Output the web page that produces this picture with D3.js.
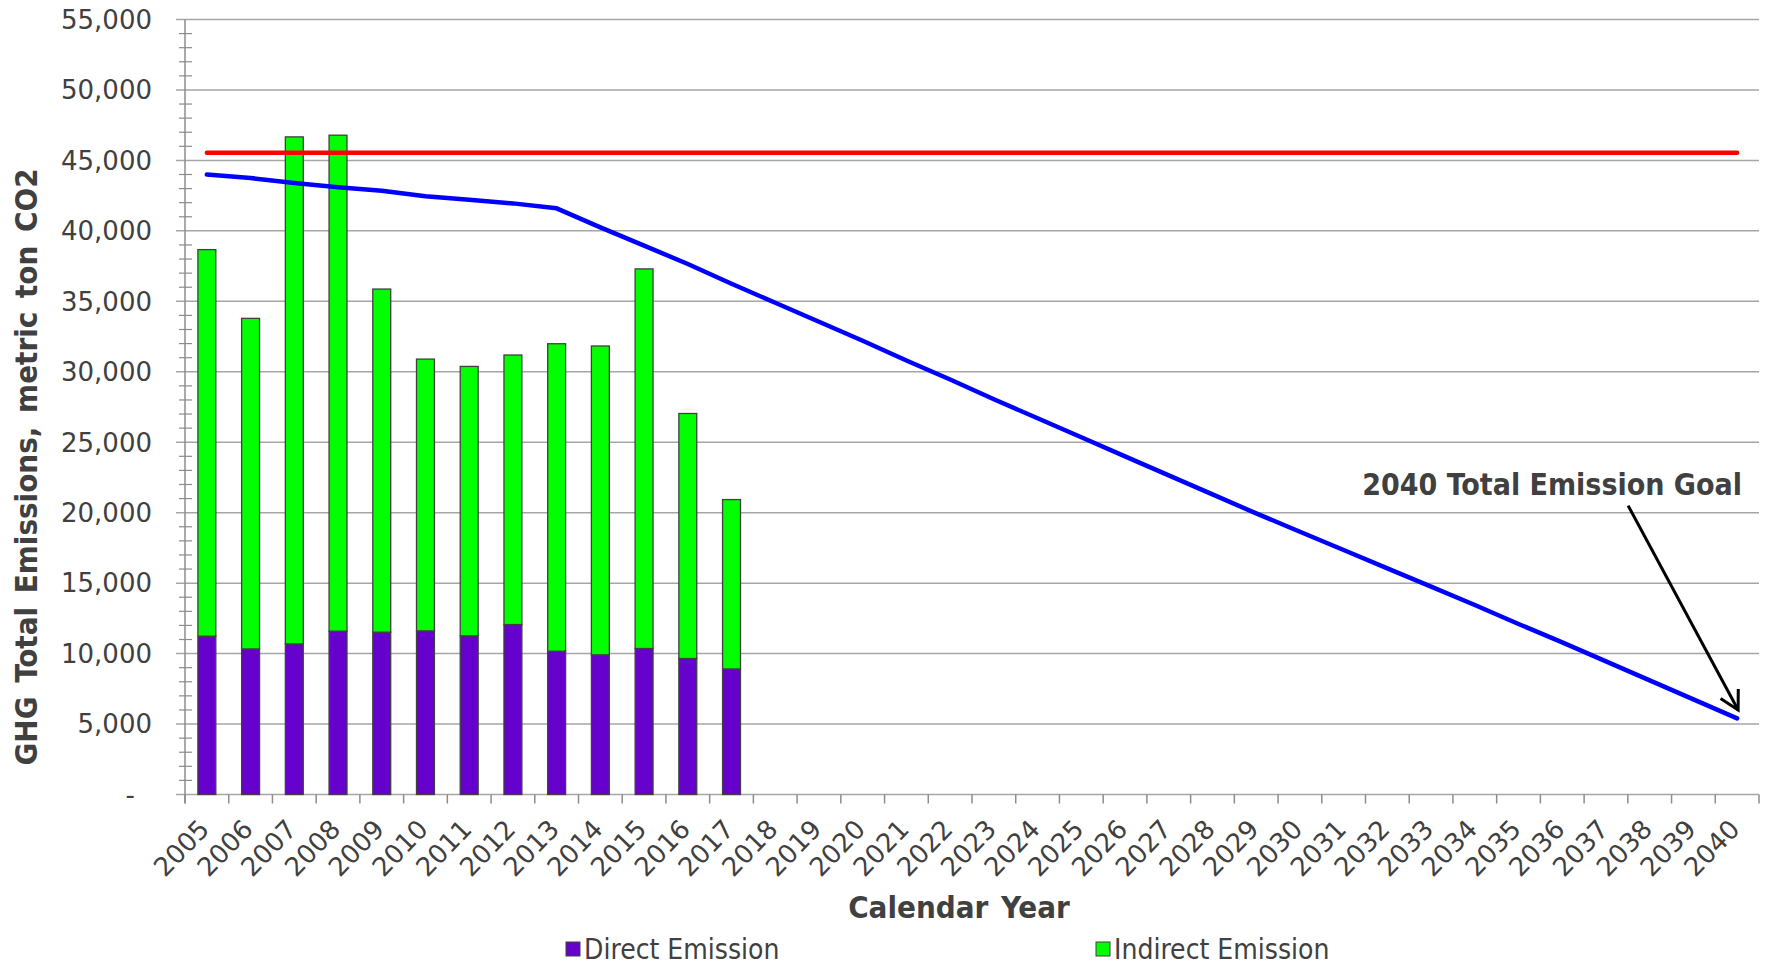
<!DOCTYPE html>
<html lang="en">
<head>
    <meta charset="UTF-8">
    <title>GHG Total Emissions</title>
    <script src="https://d3js.org/d3.v7.min.js"></script>
    <style>
        body {
            margin: 0;
            background-color: #ffffff;
        }
        svg text {
            fill: #404040;
        }
        .tick-label {
            font-family: "DejaVu Sans", sans-serif;
        }
        .bold-label {
            font-family: "DejaVu Sans Condensed", "DejaVu Sans", sans-serif;
            font-stretch: condensed;
            font-weight: bold;
        }
        .legend-label {
            font-family: "DejaVu Sans Condensed", "DejaVu Sans", sans-serif;
            font-stretch: condensed;
        }
    </style>
</head>
<body>
    <svg id="chart" width="1773" height="968"></svg>

    <script>
        // years on the category axis
        const years = d3.range(2005, 2041).map(String);

        // measured years (stacked bars)
        const barYears = ["2005", "2006", "2007", "2008", "2009", "2010", "2011", "2012", "2013", "2014", "2015", "2016", "2017"];
        const directEmission = [11235, 10330, 10690, 11590, 11520, 11610, 11260, 12060, 10170, 9910, 10360, 9650, 8910];
        const indirectEmission = [27435, 23460, 35980, 35200, 24350, 19290, 19120, 19130, 21820, 21920, 26940, 17390, 12020];

        // reduction target path (blue line)
        const targetPath = [44000, 43750, 43400, 43100, 42850, 42450, 42200, 41950, 41600, 40250,
                            38950, 37650, 36250, 34900, 33550, 32200, 30800, 29450, 28050, 26700,
                            25350, 24000, 22650, 21300, 19950, 18650, 17350, 16050, 14750, 13450,
                            12100, 10800, 9450, 8100, 6750, 5400];

        // baseline (red line)
        const baselineValue = 45550;

        const yTicks = d3.range(0, 55001, 5000);
        const seriesNames = ["Direct Emission", "Indirect Emission"];
        const seriesColors = ["#6600cc", "#00ff00"];

        const svg = d3.select("#chart");

        const plotLeft = 185, plotRight = 1759, plotTop = 19.5, plotBottom = 794.5;

        const x = d3.scaleBand().domain(years).range([plotLeft, plotRight]).padding(0);
        const y = d3.scaleLinear().domain([0, 55000]).range([plotBottom, plotTop]);
        const cx = d => x(d) + x.bandwidth() / 2;
        const barW = x.bandwidth() * 0.41;

        // horizontal gridlines + major ticks
        svg.append("g")
            .selectAll("line")
            .data(yTicks)
            .enter().append("line")
            .attr("x1", plotLeft - 9)
            .attr("x2", plotRight)
            .attr("y1", d => y(d))
            .attr("y2", d => y(d))
            .attr("stroke", "#a6a6a6")
            .attr("stroke-width", 1.5);

        // minor ticks every 1000
        const minor = d3.range(0, 55001, 1000).filter(d => d % 5000 !== 0);
        svg.append("g")
            .selectAll("line")
            .data(minor)
            .enter().append("line")
            .attr("x1", plotLeft - 6)
            .attr("x2", plotLeft + 7)
            .attr("y1", d => y(d))
            .attr("y2", d => y(d))
            .attr("stroke", "#8c8c8c")
            .attr("stroke-width", 1.2);

        // y axis line
        svg.append("line")
            .attr("x1", plotLeft).attr("x2", plotLeft)
            .attr("y1", y(55000)).attr("y2", plotBottom + 9)
            .attr("stroke", "#8c8c8c").attr("stroke-width", 1.5);

        // y tick labels
        svg.append("g")
            .selectAll("text")
            .data(yTicks)
            .enter().append("text")
            .attr("class", "tick-label")
            .attr("x", d => d === 0 ? 135 : 152)
            .attr("y", d => y(d))
            .attr("dy", "0.36em")
            .attr("text-anchor", "end")
            .attr("font-size", 26)
            .text(d => d === 0 ? "-" : d3.format(",")(d));

        // x axis: boundary ticks
        const bounds = years.map(d => x(d)).concat([plotRight]);
        svg.append("g")
            .selectAll("line")
            .data(bounds)
            .enter().append("line")
            .attr("x1", d => d).attr("x2", d => d)
            .attr("y1", plotBottom).attr("y2", plotBottom + 9)
            .attr("stroke", "#8c8c8c").attr("stroke-width", 1.5);

        // x tick labels, rotated
        svg.append("g")
            .selectAll("text")
            .data(years)
            .enter().append("text")
            .attr("class", "tick-label")
            .attr("font-size", 26)
            .attr("text-anchor", "end")
            .attr("transform", d => `translate(${cx(d) + 4},${plotBottom + 36}) rotate(-46)`)
            .text(d => d);

        // stacked bars
        const stackData = barYears.map((yr, i) => ({ year: yr, direct: directEmission[i], indirect: indirectEmission[i] }));
        const stack = d3.stack().keys(["direct", "indirect"])(stackData);

        svg.append("g")
            .selectAll("g")
            .data(stack)
            .enter().append("g")
            .attr("fill", (d, i) => seriesColors[i])
            .selectAll("rect")
            .data(d => d)
            .enter().append("rect")
            .attr("x", d => cx(d.data.year) - barW / 2)
            .attr("y", d => y(d[1]))
            .attr("width", barW)
            .attr("height", d => y(d[0]) - y(d[1]))
            .attr("stroke", "#404040")
            .attr("stroke-width", 1.3);

        // baseline red line
        svg.append("path")
            .datum(years)
            .attr("fill", "none")
            .attr("stroke", "#ff0000")
            .attr("stroke-width", 4.5)
            .attr("stroke-linecap", "round")
            .attr("d", d3.line().x(d => cx(d)).y(() => y(baselineValue)));

        // target blue line
        svg.append("path")
            .datum(targetPath)
            .attr("fill", "none")
            .attr("stroke", "#0000ff")
            .attr("stroke-width", 4.5)
            .attr("stroke-linecap", "round")
            .attr("stroke-linejoin", "round")
            .attr("d", d3.line().x((d, i) => cx(years[i])).y(d => y(d)));

        // annotation
        const tipX = cx("2040") + 1, tipY = y(6000);
        const tailX = tipX - 110, tailY = y(20500);
        svg.append("line")
            .attr("x1", tailX).attr("y1", tailY)
            .attr("x2", tipX).attr("y2", tipY)
            .attr("stroke", "#000").attr("stroke-width", 3);
        const ang = Math.atan2(tipY - tailY, tipX - tailX);
        const headLen = 21;
        const head = [ang - 0.5, ang + 0.5].map(a => [tipX - headLen * Math.cos(a), tipY - headLen * Math.sin(a)]);
        svg.append("path")
            .attr("d", `M${head[0][0]},${head[0][1]}L${tipX},${tipY}L${head[1][0]},${head[1][1]}`)
            .attr("fill", "none")
            .attr("stroke", "#000").attr("stroke-width", 3);
        svg.append("text")
            .attr("class", "bold-label")
            .attr("x", 1742)
            .attr("y", 495)
            .attr("text-anchor", "end")
            .attr("font-size", 30)
            .text("2040 Total Emission Goal");

        // axis titles
        svg.append("text")
            .attr("class", "bold-label")
            .attr("x", 959)
            .attr("y", 918)
            .attr("text-anchor", "middle")
            .attr("font-size", 31)
            .attr("word-spacing", 3)
            .text("Calendar Year");

        svg.append("text")
            .attr("class", "bold-label")
            .attr("transform", "translate(37,467) rotate(-90)")
            .attr("text-anchor", "middle")
            .attr("font-size", 31)
            .attr("word-spacing", 4)
            .text("GHG Total Emissions, metric ton CO2");

        // legend
        const legendX = [566, 1096];
        const legend = svg.append("g")
            .selectAll("g")
            .data(seriesNames)
            .enter().append("g")
            .attr("transform", (d, i) => `translate(${legendX[i]},949)`);
        legend.append("rect")
            .attr("x", 0).attr("y", -7)
            .attr("width", 14).attr("height", 14)
            .attr("fill", (d, i) => seriesColors[i])
            .attr("stroke", "#404040").attr("stroke-width", 1);
        legend.append("text")
            .attr("class", "legend-label")
            .attr("x", 18)
            .attr("dy", "0.36em")
            .attr("font-size", 28)
            .text(d => d);
    </script>
</body>
</html>
